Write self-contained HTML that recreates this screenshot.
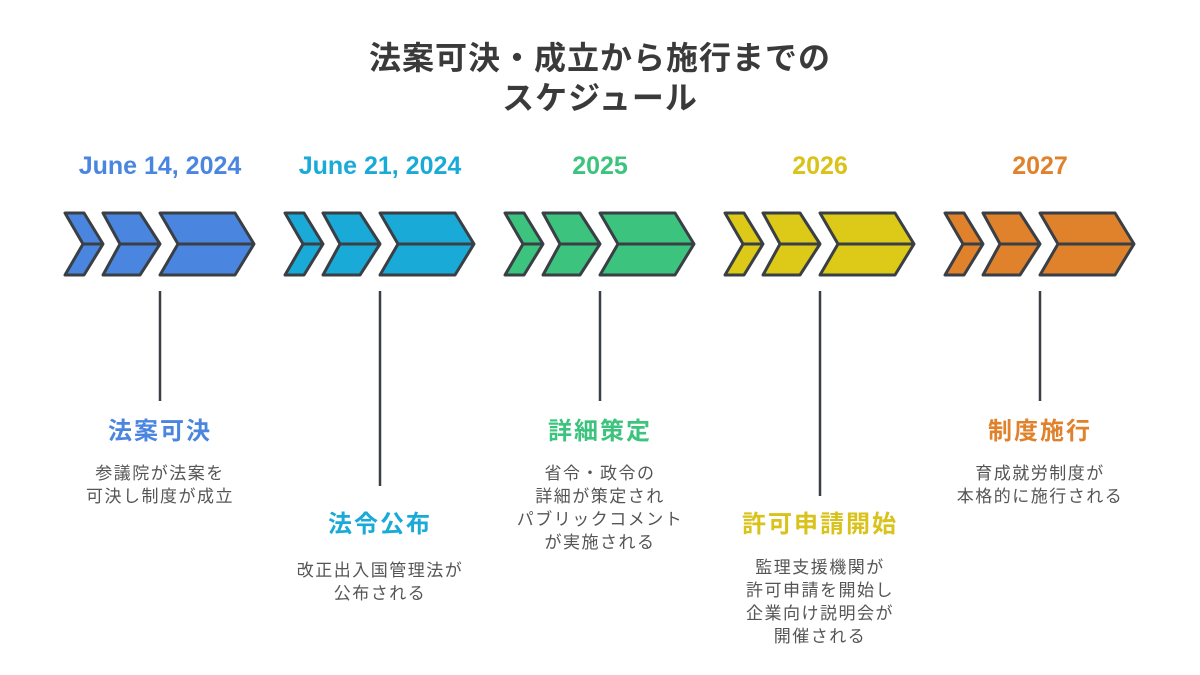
<!DOCTYPE html>
<html><head><meta charset="utf-8"><style>
body{margin:0;width:1200px;height:675px;background:#fff;overflow:hidden;font-family:"Liberation Sans","Noto Sans CJK JP",sans-serif;}
.a{position:absolute;text-align:center;white-space:nowrap;transform:translateX(-50%);}
.h{font-weight:bold;font-size:24px;line-height:30px;letter-spacing:2px;}
.d{font-weight:bold;font-size:25px;line-height:30px;}
.b{font-size:17px;line-height:23px;color:#555;letter-spacing:1.5px;}
.t{font-weight:bold;font-size:32px;line-height:40px;color:#3a3a3a;letter-spacing:1px;}
</style></head><body>
<div class="a t" style="left:600px;top:38px;">法案可決・成立から施行までの<br>スケジュール</div>
<svg width="1200" height="675" style="position:absolute;left:0;top:0">
<defs>
<g id="c" stroke="#3a3f45" stroke-width="3" stroke-linejoin="round">
<path d="M1 213 H20 L39 244 L20 275 H1 L19 244 Z"/><path d="M39 213 H76 L96 244 L76 275 H39 L56 244 Z"/><path d="M96 213 H171 L190 244 L171 275 H96 L114 244 Z"/>
<path d="M19 244 H39 M56 244 H96 M114 244 H190" fill="none"/>
</g></defs>
<use href="#c" x="64" fill="#4A86E0"/>
<use href="#c" x="284" fill="#1AAAD8"/>
<use href="#c" x="504" fill="#3CC47E"/>
<use href="#c" x="724" fill="#DCC918"/>
<use href="#c" x="944" fill="#E0822C"/>
<g stroke="#3a3f45" stroke-width="2.5">
<line x1="160" y1="291" x2="160" y2="401"/><line x1="380" y1="291" x2="380" y2="486"/><line x1="600" y1="291" x2="600" y2="401"/><line x1="820" y1="291" x2="820" y2="496"/><line x1="1040" y1="291" x2="1040" y2="401"/>
</g></svg>
<div class="a d" style="left:160px;top:151px;color:#4A86E0">June 14, 2024</div>
<div class="a d" style="left:380px;top:151px;color:#1AAAD8">June 21, 2024</div>
<div class="a d" style="left:600px;top:151px;color:#3CC47E">2025</div>
<div class="a d" style="left:820px;top:151px;color:#D9C21A">2026</div>
<div class="a d" style="left:1040px;top:151px;color:#E0822C">2027</div>
<div class="a h" style="left:160px;top:417px;color:#4A86E0">法案可決</div>
<div class="a b" style="left:160px;top:462px;">参議院が法案を<br>可決し制度が成立</div>
<div class="a h" style="left:380px;top:510px;color:#1AAAD8">法令公布</div>
<div class="a b" style="left:380px;top:559px;">改正出入国管理法が<br>公布される</div>
<div class="a h" style="left:600px;top:417px;color:#3CC47E">詳細策定</div>
<div class="a b" style="left:600px;top:462px;">省令・政令の<br>詳細が策定され<br>パブリックコメント<br>が実施される</div>
<div class="a h" style="left:820px;top:510px;color:#D9C21A">許可申請開始</div>
<div class="a b" style="left:820px;top:556px;">監理支援機関が<br>許可申請を開始し<br>企業向け説明会が<br>開催される</div>
<div class="a h" style="left:1040px;top:417px;color:#E0822C">制度施行</div>
<div class="a b" style="left:1040px;top:462px;">育成就労制度が<br>本格的に施行される</div>
</body></html>
